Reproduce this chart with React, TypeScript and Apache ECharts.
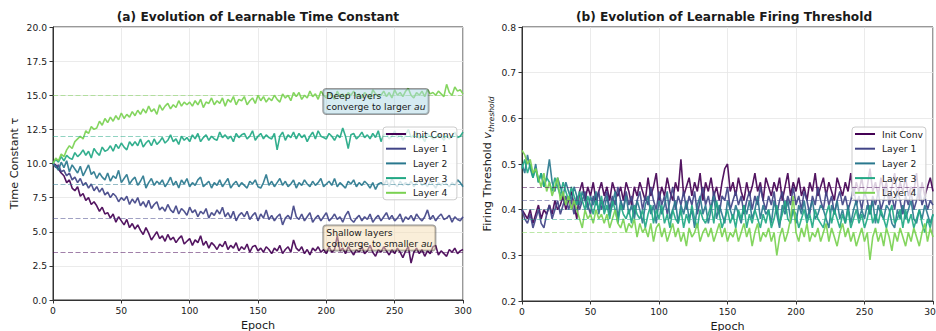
import React, { useEffect, useRef } from "react";
import * as echarts from "echarts";

// ---------- data ----------
const EPOCHS = Array.from({ length: 151 }, (_, i) => i * 2); // sampled every 2 epochs, 0..300
const LAYERS = ["Init Conv", "Layer 1", "Layer 2", "Layer 3", "Layer 4"];
const COLORS = ["#440154", "#414487", "#2a788e", "#22a884", "#7ad151"];

const X_TICKS = { min: 0, max: 300, interval: 50 };
const TAU_TICKS = { min: 0, max: 20, interval: 2.5 };
const VTH_TICKS = { min: 0.2, max: 0.8, interval: 0.1 };

const TAU_TARGETS = [3.5, 6, 8.5, 12, 15];
const VTH_TARGETS = [0.45, 0.42, 0.4, 0.38, 0.35];

const TAU_INIT = [
  10.0, 9.9, 9.6, 9.3, 9.1, 8.6, 8.8, 8.2, 8.0, 8.3,
  7.6, 7.8, 7.3, 7.5, 7.0, 7.2, 6.9, 6.5, 6.8, 6.3,
  6.4, 6.0, 6.3, 5.7, 6.1, 5.8, 5.5, 5.9, 5.3, 5.6,
  5.2, 5.5, 5.1, 4.8, 5.3, 4.9, 4.4, 4.7, 5.0, 4.5,
  4.7, 4.3, 4.8, 4.4, 4.6, 4.2, 4.5, 4.7, 4.1, 4.3,
  4.5, 4.0, 4.4, 4.2, 4.7, 4.0, 4.3, 3.8, 4.2, 4.0,
  3.7, 4.1, 3.9, 4.3, 3.7, 4.0, 3.8, 4.2, 3.6, 3.9,
  3.7, 4.1, 3.5, 3.9, 4.0, 3.6, 3.8, 3.5, 3.9, 3.7,
  3.4, 3.8, 3.6, 4.0, 3.4, 3.7, 3.9, 3.5, 4.4, 3.8,
  3.6, 3.9, 3.4, 3.7, 3.3, 3.8, 3.6, 3.9, 3.5, 3.7,
  3.4, 3.9, 3.5, 3.7, 4.7, 3.6, 3.8, 3.4, 3.9, 3.6,
  3.3, 3.7, 3.5, 3.9, 3.4, 3.6, 4.0, 3.5, 3.2, 3.7,
  3.5, 3.9, 3.6, 3.3, 3.7, 3.4, 3.8, 3.5, 3.1, 3.6,
  3.9, 2.7, 3.5, 3.8, 3.4, 3.7, 3.2, 3.6, 3.4, 3.9,
  4.0, 3.3, 3.6, 3.4, 3.2, 3.7, 3.5, 3.8, 3.4, 3.6,
  3.7,
];
const TAU_L1 = [
  10.0, 9.7, 9.9, 9.4, 9.5, 9.1, 9.3, 8.8, 9.0, 8.6,
  8.9, 8.4, 8.6, 8.2, 8.5, 8.0, 8.3, 7.9, 8.2, 7.7,
  7.9, 7.5, 7.8, 7.6, 7.2, 7.5, 7.3, 7.6, 7.0, 7.4,
  7.1, 7.5, 6.9, 7.2, 6.8, 7.3, 6.7, 7.0, 7.2, 6.6,
  6.8, 6.5, 7.0, 6.6, 6.4, 6.9, 6.3, 6.7, 6.5, 6.2,
  6.8, 6.4, 6.6, 6.1, 6.5, 6.3, 6.7, 6.0, 6.4, 6.2,
  6.6, 6.3, 6.8, 6.1, 6.4, 6.0, 6.5, 5.8, 6.2, 6.4,
  6.1, 6.5, 5.9, 6.2, 6.4, 5.8, 6.3, 6.0, 6.6, 5.9,
  6.2, 5.8, 6.1, 6.3, 5.5, 6.0, 6.2, 5.9, 6.9, 6.1,
  5.9, 6.3, 5.8, 6.1, 6.4, 5.7, 6.0, 6.2, 5.8, 6.1,
  6.4, 5.8, 6.0, 6.3, 5.9, 6.1, 5.7, 6.2, 6.5, 5.9,
  5.7, 6.0, 6.2, 5.8, 6.1, 5.9, 6.3, 5.7, 6.0, 6.2,
  5.8, 6.1, 6.4, 5.9, 6.2, 5.8, 6.0, 6.3, 5.7, 6.1,
  5.9, 6.2, 5.8, 6.3, 6.0, 5.8, 6.1, 6.6, 5.9, 6.2,
  5.8, 6.1, 6.3, 5.9, 6.0, 6.2, 5.7, 6.1, 5.9, 5.8,
  6.1,
];
const TAU_L2 = [
  10.0, 9.8, 9.5, 10.1, 9.7, 10.2, 9.4, 9.9, 9.6, 9.3,
  9.8, 9.1, 9.5, 9.9, 9.2, 9.4, 8.9, 9.3, 9.0, 8.8,
  9.3, 8.7, 9.1, 8.9, 9.5, 8.6, 8.9, 9.2, 8.5, 8.8,
  9.0, 8.4, 8.7, 9.1, 8.2, 8.6, 8.9, 8.4, 8.7, 8.5,
  8.8, 8.3, 8.6, 9.0, 8.4, 8.7, 8.2, 8.8, 8.5, 8.9,
  8.3, 8.6, 8.4, 8.8, 9.0, 8.3, 8.5, 8.7, 8.2, 8.6,
  8.4, 8.8, 8.3, 8.6, 8.9, 8.2, 8.5, 8.7, 8.3, 8.6,
  8.4, 8.2, 8.7, 8.5, 8.8, 8.3, 8.2, 8.6, 9.2, 8.4,
  8.7, 8.3, 8.6, 8.9, 8.4, 8.7, 8.3, 8.5, 8.8, 8.2,
  8.6, 8.4, 8.8, 8.5, 8.3, 8.7, 8.4, 8.6, 8.9, 8.3,
  8.5, 8.7, 8.4, 8.9, 8.3, 8.6, 8.4, 8.2, 8.7, 8.5,
  8.8, 8.3, 8.6, 8.4, 8.7, 8.5, 8.2, 8.6, 8.1, 8.5,
  8.6, 8.4, 8.8, 8.3, 8.9, 8.5, 8.3, 8.7, 8.4, 8.6,
  8.4, 8.7, 8.3, 8.6, 8.8, 8.4, 8.6, 8.3, 8.7, 8.5,
  8.2, 8.6, 8.4, 8.7, 8.5, 8.3, 8.6, 8.4, 8.8, 8.6,
  8.3,
];
const TAU_L3 = [
  10.0, 10.3, 10.1, 10.5, 10.2, 10.6, 10.4, 10.3, 10.8, 10.5,
  10.7, 11.0, 10.6, 10.9, 10.4, 11.1, 10.8, 10.6, 11.2, 10.9,
  11.0, 11.3, 10.9, 11.4, 11.1, 11.5, 11.2, 11.0, 11.6, 11.3,
  11.6, 11.3, 11.8, 11.2, 11.5, 11.7, 11.3, 11.8, 11.4, 11.6,
  11.9, 11.5, 11.7, 12.1, 11.6, 11.8, 11.4, 12.0, 11.7, 11.9,
  11.6, 12.1, 11.8, 12.2, 11.6, 11.9, 12.1, 11.7, 12.0, 11.8,
  11.7, 12.3, 11.9, 12.1, 11.8, 12.0, 11.6, 12.2, 11.9, 12.1,
  12.2, 11.8, 12.0, 12.4, 11.7, 12.0, 12.2, 11.8, 12.1, 11.9,
  11.8, 12.2, 11.0, 12.0, 12.3, 11.7, 12.1, 11.9, 12.3, 11.8,
  12.2, 11.9, 12.1, 11.6, 12.0, 12.3, 11.8, 12.4, 12.0, 11.9,
  11.8, 12.2, 12.0, 11.7, 12.1, 11.9, 12.6, 12.0, 11.1, 12.1,
  12.2, 11.8, 12.0, 12.3, 11.9, 12.1, 11.8, 12.2, 11.9, 12.4,
  11.6, 12.1, 12.2, 11.8, 12.0, 12.4, 11.9, 12.2, 11.7, 12.1,
  12.5, 11.9, 12.1, 12.3, 11.8, 12.0, 11.6, 12.2, 12.0, 11.8,
  11.9, 12.2, 12.0, 11.7, 12.1, 11.8, 12.0, 12.3, 11.9, 12.0,
  12.3,
];
const TAU_L4 = [
  10.0, 10.4, 10.2, 10.7, 10.5, 11.0, 11.3, 11.1, 11.6, 11.8,
  12.0, 11.8, 12.4, 12.2, 12.7, 12.5, 12.6, 13.1, 12.8, 13.3,
  13.0, 13.4, 13.1, 13.5, 13.2, 13.7, 13.3, 13.6, 13.4, 13.8,
  13.5, 13.9, 13.6, 14.0, 13.7, 14.2, 13.8, 14.0, 13.6, 14.3,
  13.9, 14.2, 14.4, 14.0, 14.3, 14.1, 14.6, 14.2, 14.5, 14.3,
  14.5, 14.2, 14.6, 14.3, 14.7, 14.1, 14.5, 14.4, 14.8, 14.3,
  14.6, 14.4, 14.8, 14.2, 14.7, 14.5, 14.9, 14.3, 14.7, 14.6,
  14.9, 14.3, 14.6, 14.8, 14.4, 15.0, 14.6, 14.9, 14.5, 14.8,
  14.6, 15.0, 14.7, 14.5, 15.1, 14.8, 15.0, 14.6, 15.2, 14.9,
  15.2, 14.7, 15.0, 14.8, 15.3, 14.9, 15.1, 14.7, 15.3, 15.0,
  14.8, 15.2, 15.0, 14.7, 15.3, 14.9, 15.1, 14.8, 15.2, 15.0,
  15.3, 14.9, 15.1, 14.8, 15.2, 15.0, 14.7, 15.4, 15.1, 14.9,
  15.0, 15.3, 14.9, 15.2, 14.8, 15.4, 15.0, 15.2, 14.9, 15.3,
  15.5, 15.0, 14.8, 15.2, 15.0, 15.3, 14.9, 15.4, 15.1, 15.2,
  15.0, 15.3, 15.1, 14.9, 15.8, 15.2, 15.0, 15.6, 15.3, 15.4,
  15.1,
];

const VTH_INIT = [
  0.40, 0.39, 0.38, 0.40, 0.37, 0.39, 0.41, 0.38, 0.40, 0.39,
  0.41, 0.39, 0.42, 0.40, 0.41, 0.43, 0.40, 0.42, 0.44, 0.41,
  0.38, 0.44, 0.46, 0.42, 0.45, 0.43, 0.46, 0.42, 0.44, 0.46,
  0.43, 0.45, 0.42, 0.46, 0.44, 0.43, 0.45, 0.42, 0.46, 0.44,
  0.41, 0.45, 0.43, 0.46, 0.44, 0.42, 0.47, 0.43, 0.45, 0.48,
  0.42, 0.45, 0.43, 0.47, 0.44, 0.42, 0.46, 0.44, 0.51, 0.43,
  0.45, 0.47, 0.43, 0.46, 0.44, 0.48, 0.42, 0.46, 0.44, 0.47,
  0.43, 0.45, 0.42, 0.46, 0.49, 0.50, 0.44, 0.46, 0.43, 0.47,
  0.44, 0.42, 0.46, 0.43, 0.45, 0.48, 0.44, 0.46, 0.42, 0.47,
  0.45, 0.43, 0.46, 0.44, 0.47, 0.42, 0.45, 0.48, 0.43, 0.46,
  0.44, 0.47, 0.43, 0.45, 0.42, 0.46, 0.44, 0.48, 0.43, 0.45,
  0.47, 0.43, 0.46, 0.44, 0.42, 0.47, 0.45, 0.43, 0.46, 0.44,
  0.48, 0.43, 0.46, 0.44, 0.47, 0.43, 0.45, 0.49, 0.44, 0.46,
  0.43, 0.47, 0.44, 0.46, 0.42, 0.45, 0.48, 0.43, 0.46, 0.44,
  0.47, 0.43, 0.45, 0.44, 0.48, 0.42, 0.46, 0.43, 0.45, 0.47,
  0.44,
];
const VTH_L1 = [
  0.40, 0.38, 0.37, 0.39, 0.36, 0.38, 0.40, 0.37, 0.36, 0.39,
  0.41, 0.38, 0.40, 0.42, 0.39, 0.41, 0.43, 0.40, 0.42, 0.39,
  0.43, 0.40, 0.42, 0.44, 0.41, 0.39, 0.43, 0.41, 0.44, 0.40,
  0.42, 0.44, 0.40, 0.43, 0.41, 0.45, 0.42, 0.40, 0.44, 0.41,
  0.43, 0.39, 0.42, 0.44, 0.40, 0.43, 0.41, 0.45, 0.42, 0.40,
  0.44, 0.41, 0.43, 0.39, 0.42, 0.45, 0.40, 0.43, 0.41, 0.44,
  0.40, 0.43, 0.41, 0.44, 0.39, 0.42, 0.45, 0.41, 0.43, 0.40,
  0.44, 0.41, 0.39, 0.43, 0.42, 0.45, 0.40, 0.42, 0.44, 0.41,
  0.43, 0.39, 0.42, 0.44, 0.40, 0.43, 0.41, 0.45, 0.42, 0.40,
  0.43, 0.41, 0.44, 0.39, 0.42, 0.44, 0.40, 0.43, 0.41, 0.45,
  0.41, 0.43, 0.40, 0.44, 0.42, 0.39, 0.43, 0.41, 0.45, 0.42,
  0.40, 0.44, 0.41, 0.43, 0.39, 0.42, 0.44, 0.41, 0.43, 0.40,
  0.42, 0.45, 0.41, 0.43, 0.40, 0.44, 0.42, 0.39, 0.43, 0.41,
  0.44, 0.40, 0.42, 0.45, 0.41, 0.43, 0.40, 0.44, 0.42, 0.39,
  0.43, 0.41, 0.44, 0.40, 0.42, 0.45, 0.41, 0.43, 0.40, 0.42,
  0.41,
];
const VTH_L2 = [
  0.50, 0.48, 0.52, 0.49, 0.47, 0.50, 0.46, 0.48, 0.45, 0.47,
  0.51, 0.46, 0.44, 0.47, 0.45, 0.43, 0.46, 0.44, 0.42, 0.45,
  0.43, 0.41, 0.44, 0.42, 0.40, 0.43, 0.41, 0.44, 0.39, 0.42,
  0.40, 0.43, 0.39, 0.41, 0.44, 0.38, 0.42, 0.40, 0.43, 0.39,
  0.41, 0.38, 0.42, 0.40, 0.37, 0.41, 0.43, 0.39, 0.41, 0.37,
  0.42, 0.39, 0.41, 0.44, 0.38, 0.40, 0.42, 0.37, 0.41, 0.39,
  0.42, 0.38, 0.40, 0.36, 0.41, 0.43, 0.39, 0.41, 0.37, 0.40,
  0.43, 0.38, 0.41, 0.39, 0.37, 0.42, 0.40, 0.38, 0.41, 0.39,
  0.37, 0.41, 0.39, 0.42, 0.38, 0.40, 0.43, 0.38, 0.41, 0.39,
  0.40, 0.37, 0.42, 0.39, 0.36, 0.41, 0.39, 0.42, 0.38, 0.40,
  0.37, 0.41, 0.39, 0.42, 0.38, 0.40, 0.42, 0.38, 0.39, 0.41,
  0.40, 0.38, 0.36, 0.41, 0.39, 0.42, 0.38, 0.40, 0.37, 0.41,
  0.37, 0.40, 0.42, 0.38, 0.40, 0.38, 0.41, 0.39, 0.42, 0.37,
  0.41, 0.39, 0.38, 0.41, 0.40, 0.37, 0.36, 0.40, 0.38, 0.41,
  0.38, 0.40, 0.42, 0.38, 0.37, 0.40, 0.38, 0.41, 0.39, 0.37,
  0.39,
];
const VTH_L3 = [
  0.49, 0.51, 0.48, 0.50, 0.47, 0.49, 0.46, 0.48, 0.45, 0.47,
  0.46, 0.44, 0.47, 0.45, 0.43, 0.46, 0.44, 0.42, 0.45, 0.43,
  0.41, 0.44, 0.42, 0.40, 0.43, 0.41, 0.39, 0.42, 0.40, 0.43,
  0.39, 0.41, 0.38, 0.42, 0.40, 0.37, 0.41, 0.39, 0.38, 0.40,
  0.37, 0.41, 0.39, 0.38, 0.40, 0.36, 0.39, 0.41, 0.37, 0.40,
  0.38, 0.41, 0.37, 0.39, 0.36, 0.40, 0.38, 0.37, 0.40, 0.36,
  0.39, 0.37, 0.41, 0.38, 0.36, 0.40, 0.38, 0.37, 0.39, 0.41,
  0.37, 0.42, 0.39, 0.36, 0.38, 0.40, 0.37, 0.39, 0.36, 0.40,
  0.38, 0.41, 0.36, 0.39, 0.37, 0.40, 0.38, 0.36, 0.39, 0.37,
  0.40, 0.36, 0.38, 0.41, 0.37, 0.39, 0.42, 0.38, 0.37, 0.40,
  0.39, 0.36, 0.38, 0.40, 0.37, 0.39, 0.36, 0.40, 0.38, 0.37,
  0.36, 0.39, 0.41, 0.37, 0.40, 0.38, 0.36, 0.39, 0.37, 0.40,
  0.36, 0.38, 0.40, 0.37, 0.39, 0.36, 0.38, 0.41, 0.37, 0.39,
  0.37, 0.40, 0.38, 0.36, 0.39, 0.41, 0.37, 0.38, 0.40, 0.36,
  0.40, 0.37, 0.39, 0.36, 0.38, 0.40, 0.37, 0.35, 0.38, 0.36,
  0.39,
];
const VTH_L4 = [
  0.53, 0.52, 0.50, 0.51, 0.48, 0.49, 0.47, 0.45, 0.48, 0.44,
  0.46, 0.43, 0.45, 0.47, 0.42, 0.44, 0.41, 0.43, 0.40, 0.42,
  0.40, 0.38, 0.36, 0.40, 0.38, 0.39, 0.37, 0.40, 0.38, 0.39,
  0.37, 0.39, 0.36, 0.38, 0.40, 0.37, 0.36, 0.38, 0.35, 0.37,
  0.36, 0.38, 0.34, 0.37, 0.35, 0.36, 0.34, 0.37, 0.33, 0.36,
  0.37, 0.34, 0.36, 0.33, 0.35, 0.37, 0.34, 0.36, 0.33, 0.35,
  0.32, 0.36, 0.34, 0.35, 0.37, 0.33, 0.35, 0.36, 0.34, 0.36,
  0.33, 0.35, 0.37, 0.34, 0.36, 0.33, 0.35, 0.34, 0.36, 0.33,
  0.35, 0.37, 0.34, 0.36, 0.32, 0.35, 0.37, 0.33, 0.35, 0.34,
  0.36, 0.33, 0.35, 0.30, 0.34, 0.36, 0.33, 0.35, 0.38, 0.43,
  0.35, 0.33, 0.36, 0.34, 0.37, 0.33, 0.35, 0.34, 0.36, 0.33,
  0.35, 0.37, 0.33, 0.36, 0.34, 0.32, 0.35, 0.37, 0.34, 0.36,
  0.33, 0.35, 0.32, 0.34, 0.36, 0.33, 0.35, 0.29, 0.34, 0.36,
  0.33, 0.35, 0.32, 0.36, 0.34, 0.31, 0.35, 0.33, 0.36, 0.34,
  0.32, 0.35, 0.33, 0.36, 0.34, 0.32, 0.35, 0.37, 0.33, 0.36,
  0.34,
];

const TAU_SERIES = [TAU_INIT, TAU_L1, TAU_L2, TAU_L3, TAU_L4];
const VTH_SERIES = [VTH_INIT, VTH_L1, VTH_L2, VTH_L3, VTH_L4];

const NOTE_DEEP = { epoch: 200, value: 14.55, line1: "Deep layers", line2: "converge to larger ", tail: "au" };
const NOTE_SHALLOW = { epoch: 200, value: 4.55, line1: "Shallow layers", line2: "converge to smaller ", tail: "au" };

// ---------- styles ----------
const FONT = "DejaVu Sans";
const TXT = "#1a1a1a";

function hexA(hex: string, a: number) {
  const r = parseInt(hex.slice(1, 3), 16);
  const g = parseInt(hex.slice(3, 5), 16);
  const b = parseInt(hex.slice(5, 7), 16);
  return `rgba(${r},${g},${b},${a})`;
}

function noteLabel(note: any, bg: string) {
  return {
    show: true,
    position: "right",
    distance: 0,
    offset: [-3.5, 0],
    formatter: `{n|${note.line1}}\n{n|${note.line2}}{i|${note.tail}}`,
    backgroundColor: bg,
    borderColor: "rgba(0,0,0,0.4)",
    borderWidth: 1,
    borderRadius: 3,
    padding: [1.5, 3, 1.5, 3],
    rich: {
      n: { fontFamily: FONT, fontSize: 9.2, color: TXT, lineHeight: 11 },
      i: { fontFamily: FONT, fontSize: 9.2, color: TXT, lineHeight: 11, fontStyle: "italic" },
    },
  };
}

function xAxis(gridIndex: number) {
  return {
    type: "value",
    gridIndex,
    ...X_TICKS,
    name: "Epoch",
    nameLocation: "middle",
    nameGap: 16,
    nameTextStyle: { fontFamily: FONT, fontSize: 11.2, color: TXT },
    axisLine: { show: true, lineStyle: { color: "#333", width: 1 } },
    axisTick: { show: true, length: 3.5, lineStyle: { color: "#333" } },
    axisLabel: { fontFamily: FONT, fontSize: 9.2, color: TXT, margin: 6 },
    splitLine: { show: true, lineStyle: { color: "#e6e6e6", width: 0.8 } },
  };
}

function yAxis(gridIndex: number, ticks: any, name: string, nameGap: number, rich?: any) {
  return {
    type: "value",
    gridIndex,
    ...ticks,
    name,
    nameLocation: "middle",
    nameGap,
    nameRotate: 90,
    nameTextStyle: { fontFamily: FONT, fontSize: 11.2, color: TXT, rich },
    axisLine: { show: true, lineStyle: { color: "#333", width: 1 } },
    axisTick: { show: true, length: 3.5, lineStyle: { color: "#333" } },
    axisLabel: {
      fontFamily: FONT,
      fontSize: 9.2,
      color: TXT,
      margin: 6,
      formatter: (v: number) => v.toFixed(1),
    },
    splitLine: { show: true, lineStyle: { color: "#e6e6e6", width: 0.8 } },
  };
}

function legend(left: number) {
  return {
    orient: "vertical",
    left,
    top: 127,
    data: LAYERS,
    icon: "rect",
    itemWidth: 20,
    itemHeight: 2,
    itemGap: 2.7,
    padding: [1, 3, 1, 3],
    backgroundColor: "rgba(255,255,255,0.8)",
    borderColor: "#cccccc",
    borderWidth: 1,
    borderRadius: 3,
    selectedMode: false,
    textStyle: { fontFamily: FONT, fontSize: 9.2, color: TXT, lineHeight: 12, padding: [0, 0, 0, 2] },
  };
}

function lineSeries(name: string, k: number, axis: number, values: number[], target: number) {
  return {
    name,
    type: "line",
    xAxisIndex: axis,
    yAxisIndex: axis,
    data: EPOCHS.map((e, i) => [e, values[i]]),
    showSymbol: false,
    symbol: "none",
    lineStyle: { color: COLORS[k], width: 1.6, opacity: 0.92 },
    itemStyle: { color: COLORS[k] },
    emphasis: { disabled: true },
    markLine: {
      silent: true,
      symbol: "none",
      label: { show: false },
      lineStyle: { color: hexA(COLORS[k], 0.5), type: [5, 2.5], width: 1.2 },
      data: [{ yAxis: target }],
    },
  } as any;
}

export default function App() {
  const ref = useRef<HTMLDivElement>(null);

  useEffect(() => {
    document.body.style.margin = "0";
    if (!ref.current) return;
    const chart = echarts.init(ref.current, undefined, { renderer: "svg" });

    const series: any[] = [];
    LAYERS.forEach((name, k) => {
      const s = lineSeries(name, k, 0, TAU_SERIES[k], TAU_TARGETS[k]);
      if (k === LAYERS.length - 1) {
        s.markPoint = {
          silent: true,
          symbol: "rect",
          symbolSize: 1,
          itemStyle: { color: "rgba(0,0,0,0)" },
          data: [
            { coord: [NOTE_DEEP.epoch, NOTE_DEEP.value], label: noteLabel(NOTE_DEEP, "rgba(173,216,230,0.5)") },
            { coord: [NOTE_SHALLOW.epoch, NOTE_SHALLOW.value], label: noteLabel(NOTE_SHALLOW, "rgba(245,222,179,0.5)") },
          ],
        };
      }
      series.push(s);
    });
    LAYERS.forEach((name, k) => {
      series.push(lineSeries(name, k, 1, VTH_SERIES[k], VTH_TARGETS[k]));
    });

    const gridBase = {
      show: true,
      borderColor: "#333",
      borderWidth: 1,
      backgroundColor: "transparent",
      containLabel: false,
      outerBoundsMode: "none",
    };

    chart.setOption({
      animation: false,
      backgroundColor: "#ffffff",
      textStyle: { fontFamily: FONT },
      title: [
        {
          text: "(a) Evolution of Learnable Time Constant",
          left: 258,
          top: 11,
          textAlign: "center",
          padding: 0,
          textStyle: { fontFamily: FONT, fontSize: 12.2, fontWeight: "bold", color: TXT },
        },
        {
          text: "(b) Evolution of Learnable Firing Threshold",
          left: 724,
          top: 11,
          textAlign: "center",
          padding: 0,
          textStyle: { fontFamily: FONT, fontSize: 12.2, fontWeight: "bold", color: TXT },
        },
      ],
      grid: [
        { ...gridBase, left: 53, top: 27, width: 410, height: 273 },
        { ...gridBase, left: 522, top: 27, width: 411, height: 274 },
      ],
      xAxis: [xAxis(0), xAxis(1)],
      yAxis: [
        yAxis(0, TAU_TICKS, "Time Constant τ", 33),
        yAxis(1, VTH_TICKS, "{a|Firing Threshold }{v|v}{s|threshold}", 27, {
          a: { fontFamily: FONT, fontSize: 11.2, color: TXT, lineHeight: 16, verticalAlign: "middle" },
          v: { fontFamily: FONT, fontSize: 11.2, color: TXT, fontStyle: "italic", lineHeight: 16, verticalAlign: "middle" },
          s: { fontFamily: FONT, fontSize: 7.5, color: TXT, fontStyle: "italic", lineHeight: 16, verticalAlign: "bottom" },
        }),
      ],
      legend: [legend(383), legend(852)],
      series,
    });

    return () => chart.dispose();
  }, []);

  return <div ref={ref} style={{ width: 936, height: 331 }} />;
}
